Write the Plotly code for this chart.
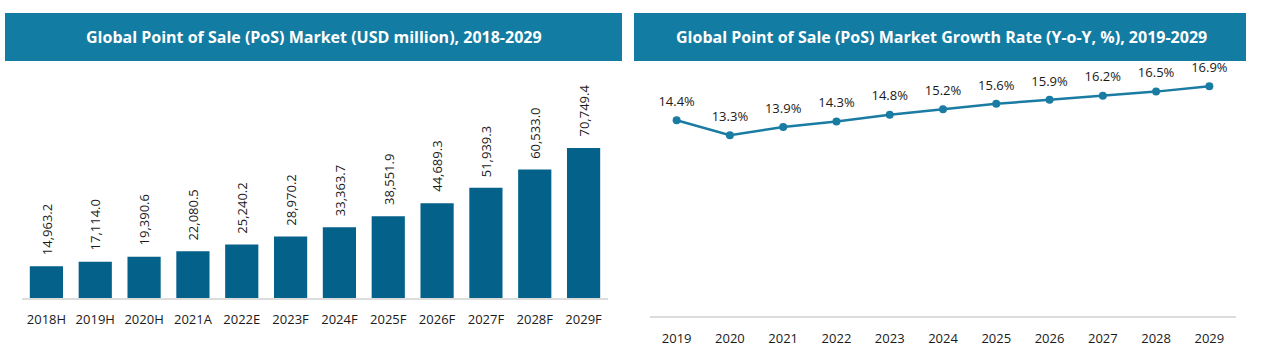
import plotly.graph_objects as go

# ---- data ----
bar_categories = ["2018H", "2019H", "2020H", "2021A", "2022E", "2023F",
                  "2024F", "2025F", "2026F", "2027F", "2028F", "2029F"]
market_values = [14963.2, 17114.0, 19390.6, 22080.5, 25240.2, 28970.2,
                 33363.7, 38551.9, 44689.3, 51939.3, 60533.0, 70749.4]

growth_years = ["2019", "2020", "2021", "2022", "2023", "2024",
                "2025", "2026", "2027", "2028", "2029"]
growth_rates = [14.4, 13.3, 13.9, 14.3, 14.8, 15.2, 15.6, 15.9, 16.2, 16.5, 16.9]

left_title = "Global Point of Sale (PoS) Market (USD million), 2018-2029"
right_title = "Global Point of Sale (PoS) Market Growth Rate (Y-o-Y, %), 2019-2029"

# ---- styles ----
W, H = 1261, 361
FONT = "Open Sans"
BANNER = "#137ca3"
BAR = "#04628a"
LINE = "#1b7ca3"
TXT = "#1a1a1a"
AXIS = "#dcdcdc"

def px_x(p):
    return p / W

def px_y(p):
    return 1 - p / H

fig = go.Figure()

fig.add_trace(go.Bar(
    x=bar_categories, y=market_values,
    marker=dict(color=BAR, line=dict(width=0)),
    cliponaxis=False, xaxis="x", yaxis="y", showlegend=False,
    hoverinfo="x+y",
))

fig.add_trace(go.Scatter(
    x=growth_years, y=growth_rates,
    mode="lines+markers",
    line=dict(color=LINE, width=2.5),
    marker=dict(color=LINE, size=8),
    cliponaxis=False, xaxis="x2", yaxis="y2", showlegend=False,
))

# invisible markers only used to push the value labels up a little
fig.add_trace(go.Scatter(
    x=growth_years, y=growth_rates,
    mode="markers+text",
    marker=dict(color="rgba(0,0,0,0)", size=16),
    texttemplate="%{y:.1f}%", textposition="top center",
    textfont=dict(family=FONT, size=13, color=TXT),
    cliponaxis=False, xaxis="x2", yaxis="y2", showlegend=False,
    hoverinfo="skip",
))

tick_font = dict(family=FONT, size=13, color=TXT)

annotations = [
    dict(text="<b>" + left_title + "</b>", xref="paper", yref="paper",
         x=px_x(314), y=px_y(37), showarrow=False,
         font=dict(family=FONT, size=16, color="white"),
         xanchor="center", yanchor="middle"),
    dict(text="<b>" + right_title + "</b>", xref="paper", yref="paper",
         x=px_x(941), y=px_y(37), showarrow=False,
         font=dict(family=FONT, size=16, color="white"),
         xanchor="center", yanchor="middle"),
]
for cat, v in zip(bar_categories, market_values):
    annotations.append(dict(
        x=cat, y=v, xref="x", yref="y", text=f"{v:,.1f}", showarrow=False,
        textangle=-90, yshift=9, font=dict(family=FONT, size=13, color=TXT),
        xanchor="center", yanchor="bottom"))

fig.update_layout(
    width=W, height=H,
    margin=dict(l=0, r=0, t=0, b=0),
    paper_bgcolor="white", plot_bgcolor="rgba(0,0,0,0)",
    bargap=0.32,
    xaxis=dict(type="category", domain=[px_x(22), px_x(608)],
               range=[-0.5, len(bar_categories) - 0.5], showline=True,
               linecolor=AXIS, linewidth=2, ticks="", tickfont=tick_font,
               ticklabelstandoff=8, showgrid=False, zeroline=False, anchor="y"),
    yaxis=dict(domain=[px_y(298), px_y(70)], range=[0, 107500], visible=False,
               showgrid=False, zeroline=False, anchor="x"),
    xaxis2=dict(type="category", domain=[px_x(650), px_x(1236)],
                range=[-0.5, len(growth_years) - 0.5], showline=True,
                linecolor=AXIS, linewidth=2, ticks="", tickfont=tick_font,
                ticklabelstandoff=9, showgrid=False, zeroline=False, anchor="y2"),
    yaxis2=dict(domain=[px_y(316), px_y(70)], range=[0, 18.09], visible=False,
                showgrid=False, zeroline=False, anchor="x2"),
    shapes=[
        dict(type="rect", xref="paper", yref="paper",
             x0=px_x(5), x1=px_x(622), y0=px_y(61), y1=px_y(13),
             fillcolor=BANNER, line=dict(width=0), layer="below"),
        dict(type="rect", xref="paper", yref="paper",
             x0=px_x(634), x1=px_x(1246), y0=px_y(61), y1=px_y(13),
             fillcolor=BANNER, line=dict(width=0), layer="below"),
    ],
    annotations=annotations,
)

fig.write_html("out.html", config={"displayModeBar": False},
               post_script="document.body.style.margin='0';document.body.style.overflow='hidden';")
